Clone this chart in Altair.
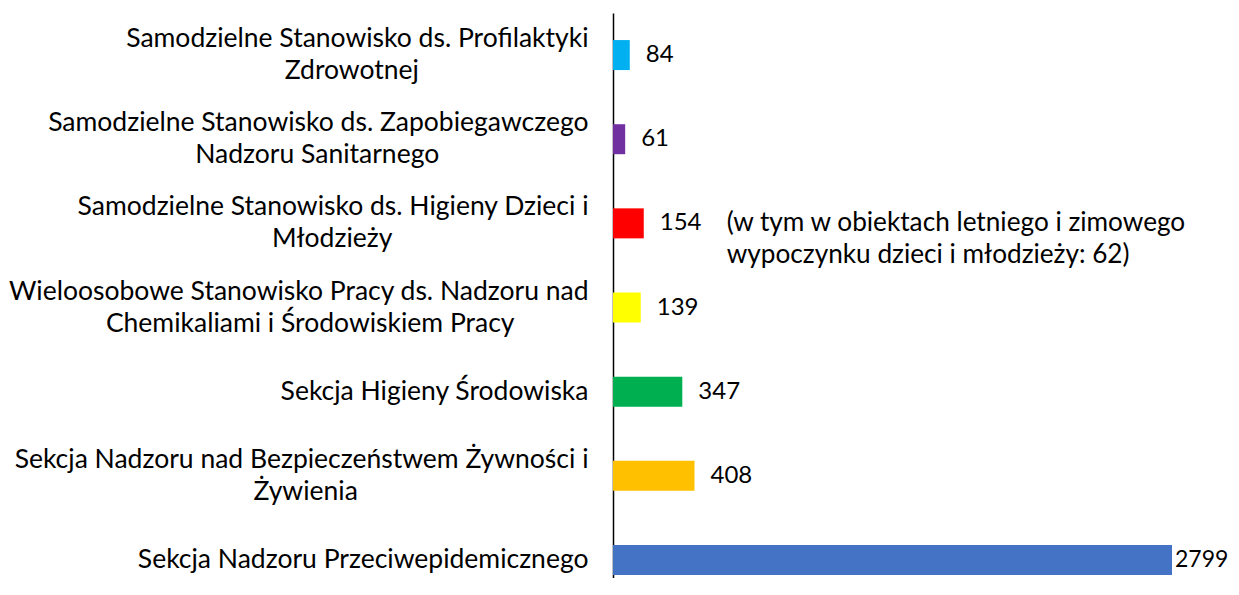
import altair as alt
import pandas as pd

line1 = [
    "Samodzielne Stanowisko ds. Profilaktyki",
    "Samodzielne Stanowisko ds. Zapobiegawczego",
    "Samodzielne Stanowisko ds. Higieny Dzieci i",
    "Wieloosobowe Stanowisko Pracy ds. Nadzoru nad",
    "Sekcja Higieny Środowiska",
    "Sekcja Nadzoru nad Bezpieczeństwem Żywności i",
    "Sekcja Nadzoru Przeciwepidemicznego",
]
line2 = [
    "Zdrowotnej",
    "Nadzoru Sanitarnego",
    "Młodzieży",
    "Chemikaliami i Środowiskiem Pracy",
    "",
    "Żywienia",
    "",
]
values = [84, 61, 154, 139, 347, 408, 2799]
colors = ["#00B0F0", "#7030A0", "#FF0000", "#FFFF00", "#00B050", "#FFC000", "#4472C4"]
note_lines = ["(w tym w obiektach letniego i zimowego", "wypoczynku dzieci i młodzieży: 62)"]
note_row = 2
note_value = 154

FONT = "Lato"
FS = 26.5
K = FS / 22.0 * (450.0 / 460.0)
NBSP_W = 6.25 * FS / 26.0


def est_width(s):
    w = 0.0
    for ch in s:
        if ch == " ":
            w += 4.3
        elif ch in "ilj.,:;'|!()ł":
            w += 5.2
        elif ch in "frt":
            w += 7.2
        elif ch in "mw":
            w += 16.5
        elif ch.isupper():
            w += 13.5
        else:
            w += 11.0
    return w * K


def center_second(a, b):
    # trailing no-break spaces (kept by a final zero-width space) so the
    # second line sits centred under the first, as in the original
    if not b:
        return a
    pad = max(0, int(round((est_width(a) - est_width(b)) / 2 / NBSP_W)))
    return a + "|" + b + "\u00a0" * pad + "\u200b"


labels = [center_second(a, b) for a, b in zip(line1, line2)]

df = pd.DataFrame({"label": labels, "value": values, "color": colors})
note_df = pd.DataFrame({"label": [labels[note_row]], "value": [note_value], "text": [note_lines]})

y_enc = alt.Y(
    "label:N",
    sort=labels,
    scale=alt.Scale(range=[0, 589], paddingInner=0, paddingOuter=0),
    axis=alt.Axis(
        title=None,
        labelExpr="split(datum.label, '|')",
        labelFont=FONT,
        labelFontSize=FS,
        labelColor="#000000",
        labelLineHeight=32,
        labelPadding=25,
        labelLimit=700,
        labelBaseline="middle",
        labelAlign="right",
        labelOffset={"condition": {"test": "indexof(datum.label, '|') >= 0", "value": -16}, "value": 0},
        ticks=False,
        grid=False,
        domainColor="#000000",
        domainWidth=1.5,
    ),
)
x_enc = alt.X("value:Q", scale=alt.Scale(domain=[0, 2799], nice=False, zero=True), axis=None)

bars = alt.Chart(df).mark_bar(size=30).encode(
    x=x_enc,
    y=y_enc,
    color=alt.Color("color:N", scale=None),
)

vals_small = alt.Chart(df).transform_filter("datum.value < 2000").mark_text(
    align="left", baseline="middle", dx=16, font=FONT, fontSize=24, color="#000000"
).encode(x=x_enc, y=alt.Y("label:N", sort=labels), text="value:Q")

vals_big = alt.Chart(df).transform_filter("datum.value >= 2000").mark_text(
    align="left", baseline="middle", dx=3, font=FONT, fontSize=23, color="#000000"
).encode(x=x_enc, y=alt.Y("label:N", sort=labels), text="value:Q")

note = alt.Chart(note_df).mark_text(
    align="left", baseline="middle", dx=83, font=FONT, fontSize=26.2,
    color="#000000", lineHeight=32,
).encode(x=x_enc, y=alt.Y("label:N", sort=labels), text="text")

chart = (
    alt.layer(bars, vals_small, vals_big, note)
    .properties(
        width=559,
        height=565,
        autosize=alt.AutoSizeParams(type="none"),
        padding={"left": 605, "top": 5, "right": 59, "bottom": 0},
    )
    .configure(background="#ffffff", view=alt.ViewConfig(stroke="transparent", strokeWidth=0))
)

chart.save("out.html", embed_options={"renderer": "svg", "actions": False})
